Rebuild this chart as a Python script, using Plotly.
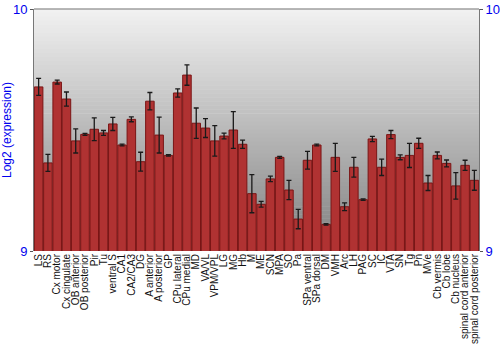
import plotly.graph_objects as go

categories = ["LS", "RS", "Cx motor", "Cx cingulate", "OB anterior", "OB posterior", "Pir", "Tu",
              "ventral S", "CA1", "CA2/CA3", "DG", "A anterior", "A posterior", "GP", "CPu lateral",
              "CPu medial", "MD", "VA/VL", "VPM/VPL", "LG", "MG", "Hb", "M", "ME", "SCN", "MPA", "SO",
              "Pa", "SPa ventral", "SPa dorsal", "DM", "VMH", "Arc", "LH", "PAG", "SC", "IC", "VTA",
              "SN", "Tg", "Pn", "MVe", "Cb vermis", "Cb lobe", "Cb nucleus", "spinal cord anterior",
              "spinal cord posterior"]

values = [9.678, 9.364, 9.698, 9.628, 9.455, 9.482, 9.503, 9.488,
          9.525, 9.438, 9.544, 9.369, 9.619, 9.479, 9.395, 9.653,
          9.727, 9.528, 9.508, 9.455, 9.475, 9.500, 9.441, 9.237, 9.193, 9.298, 9.387, 9.252,
          9.132, 9.375, 9.438, 9.110, 9.387, 9.183, 9.346, 9.212, 9.463, 9.346, 9.481,
          9.387, 9.395, 9.445, 9.281, 9.395, 9.362, 9.269, 9.354,
          9.292]

errors = [0.035, 0.035, 0.008, 0.029, 0.050, 0.004, 0.047, 0.010,
          0.027, 0.004, 0.010, 0.039, 0.036, 0.074, 0.003, 0.017,
          0.042, 0.063, 0.039, 0.063, 0.012, 0.076, 0.017, 0.079, 0.012, 0.011, 0.004, 0.040,
          0.040, 0.037, 0.004, 0.003, 0.058, 0.016, 0.041, 0.003, 0.011, 0.034, 0.017,
          0.010, 0.050, 0.021, 0.031, 0.014, 0.014, 0.055, 0.021,
          0.041]

y_ticks = [9, 10]

fig = go.Figure()

fig.add_trace(go.Bar(
    x=categories, y=values, base=0,
    marker=dict(color="#b03232", line=dict(color="#7a1515", width=1)),
    error_y=dict(type="data", array=errors, visible=True, color="#1a1a1a", thickness=1.3, width=2.5),
    hoverinfo="x+y",
))
# invisible trace on the right axis to draw it
fig.add_trace(go.Bar(x=[categories[0]], y=[0], yaxis="y2", showlegend=False, hoverinfo="skip",
                     marker=dict(opacity=0)))

# background gradient (light at top, darker at bottom)
n = 60
shapes = []
top = (242, 242, 242)
bot = (128, 128, 128)
for i in range(n):
    t = (i + 0.5) / n
    c = tuple(int(round(top[k] + (bot[k] - top[k]) * t)) for k in range(3))
    shapes.append(dict(type="rect", xref="paper", yref="paper", x0=0, x1=1,
                       y0=1 - (i + 1) / n, y1=1 - i / n + 0.002,
                       fillcolor="rgb(%d,%d,%d)" % c, line=dict(width=0), layer="below"))
shapes.append(dict(type="line", xref="paper", yref="paper", x0=0, x1=1, y0=1, y1=1,
                   line=dict(color="#777777", width=1)))

fig.update_layout(
    width=500, height=350,
    margin=dict(l=34, r=21, t=9, b=99),
    paper_bgcolor="white", plot_bgcolor="rgba(0,0,0,0)",
    showlegend=False, bargap=0.08, barmode="overlay",
    shapes=shapes,
    font=dict(family="Liberation Sans, Arial, sans-serif"),
    xaxis=dict(tickangle=-90, tickfont=dict(size=10, color="#111111"), showgrid=False,
               tickmode="array", tickvals=categories, ticktext=categories,
               range=[-0.5, len(categories) - 0.5],
               showline=False, ticks="", ticklen=0, automargin=False),
    yaxis=dict(range=[9, 10], tickvals=y_ticks, ticktext=[str(v) for v in y_ticks],
               tickfont=dict(size=13, color="#0000ee"), showgrid=False, zeroline=False,
               showline=True, linecolor="#777777", linewidth=1, ticks="outside", ticklen=3,
               tickcolor="#555555", automargin=False,
               title=dict(text="Log2 (expression)", font=dict(size=12, color="#0000ee"), standoff=2)),
    yaxis2=dict(range=[9, 10], overlaying="y", side="right", tickvals=y_ticks,
                ticktext=[str(v) for v in y_ticks], tickfont=dict(size=13, color="#0000ee"),
                showgrid=False, zeroline=False, showline=True, linecolor="#777777", linewidth=1,
                ticks="outside", ticklen=3, tickcolor="#555555", automargin=False),
)

fig.write_html("out.html")
